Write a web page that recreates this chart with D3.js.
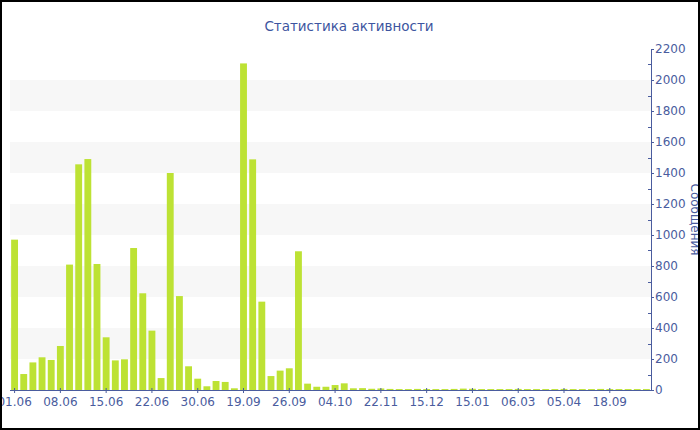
<!DOCTYPE html>
<html><head><meta charset="utf-8">
<script src="https://cdn.jsdelivr.net/npm/d3@7"></script>
<style>html,body{margin:0;padding:0;background:#fff;}svg{display:block;font-family:"DejaVu Sans",Verdana,sans-serif;}</style>
</head><body>
<svg id="c" width="700" height="430"></svg>
<script>
const title = "Статистика активности";
const yTitle = "Сообщения";
const values = [970,103,178,211,194,284,809,1456,1490,813,
  340,191,198,916,624,383,77,1400,606,153,
  73,24,58,52,11,2107,1488,570,90,125,
  140,895,41,21,21,32,43,11,12,8,
  10,7,6,6,7,6,6,6,7,9,
  8,6,6,6,6,7,6,6,6,6,
  7,6,6,6,7,6,6,6,6,6];
const tickLabels = ["01.06","08.06","15.06","22.06","30.06","19.09","26.09","04.10","22.11","15.12","15.01","06.03","05.04","18.09"];
const tickEvery = 5;
const yTicks = [0,200,400,600,800,1000,1200,1400,1600,1800,2000,2200];

const svg = d3.select("#c");
const L = 10, R = 651, T = 49, B = 390;
const axisColor = "#4a5c9e";
const x = d3.scaleBand().domain(d3.range(values.length)).range([L, R]).paddingInner(0.25).paddingOuter(0.125);
const y = d3.scaleLinear().domain([0, 2200]).range([B, T]);

// bands
const bandPairs = [[200,400],[600,800],[1000,1200],[1400,1600],[1800,2000]];
svg.append("g").selectAll("rect").data(bandPairs).join("rect")
  .attr("x", L).attr("width", R - L)
  .attr("y", d => y(d[1])).attr("height", d => y(d[0]) - y(d[1]))
  .attr("fill", "#f7f7f7");

// bars
svg.append("g").selectAll("rect").data(values).join("rect")
  .attr("x", (d,i) => x(i)).attr("width", x.bandwidth())
  .attr("y", d => y(d)).attr("height", d => B - y(d))
  .attr("fill", "#bde234");

// x axis
const tickIdx = tickLabels.map((t,i) => i * tickEvery);
const xAxis = d3.axisBottom(x).tickValues(tickIdx)
  .tickFormat(d => tickLabels[d / tickEvery]).tickSize(3).tickSizeOuter(0).tickPadding(4);
const gx = svg.append("g").attr("transform", `translate(0,${B})`).call(xAxis);
gx.select(".domain").attr("stroke", axisColor).attr("d", `M${L},0.5H${R}`);
gx.selectAll(".tick line").attr("stroke", axisColor).attr("y1", -2);
gx.selectAll("text").attr("fill", axisColor).attr("font-size", 12).attr("font-family", "DejaVu Sans");

// y axis (right)
const yAxis = d3.axisRight(y).tickValues(yTicks).tickFormat(d3.format("d")).tickSize(3).tickSizeOuter(0).tickPadding(1);
const gy = svg.append("g").attr("transform", `translate(${R},0)`).call(yAxis);
gy.select(".domain").attr("stroke", axisColor);
gy.selectAll(".tick line").attr("stroke", axisColor);
gy.selectAll("text").attr("fill", axisColor).attr("font-size", 12).attr("font-family", "DejaVu Sans");
// minor ticks
const minor = d3.range(100, 2200, 200);
gy.append("g").selectAll("line").data(minor).join("line")
  .attr("x1", -3).attr("x2", 0)
  .attr("y1", d => Math.round(y(d)) + 0.5).attr("y2", d => Math.round(y(d)) + 0.5)
  .attr("stroke", axisColor);

// y title
svg.append("text")
  .attr("transform", `translate(691,${(T + B) / 2}) rotate(90)`)
  .attr("text-anchor", "middle")
  .attr("fill", axisColor).attr("font-size", 12)
  .text(yTitle);

// title
svg.append("text").attr("x", 349).attr("y", 31).attr("text-anchor", "middle")
  .attr("fill", "#3d55a0").attr("font-size", 13.5).text(title);

// border
svg.append("rect").attr("x", 1).attr("y", 1).attr("width", 698).attr("height", 428)
  .attr("fill", "none").attr("stroke", "#000").attr("stroke-width", 2);
</script>
</body></html>
